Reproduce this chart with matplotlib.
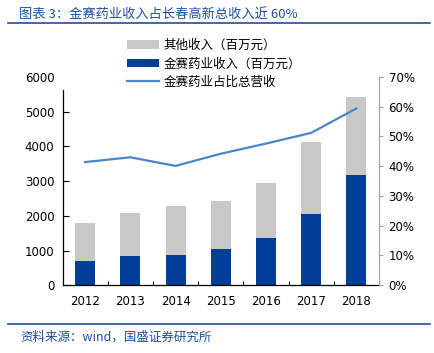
import numpy as np
import matplotlib
matplotlib.use('Agg')
import matplotlib.pyplot as plt
from matplotlib.patches import Patch
from matplotlib.lines import Line2D

# 数据
anos = ['2012', '2013', '2014', '2015', '2016', '2017', '2018']
receita_total = [1780, 2070, 2270, 2415, 2935, 4125, 5410]
receita_jinsai = [690, 835, 870, 1035, 1360, 2050, 3165]
proporcao = [0.414, 0.430, 0.401, 0.442, 0.476, 0.512, 0.594]

outros = [t - j for t, j in zip(receita_total, receita_jinsai)]

cjk = ['Noto Sans CJK SC', 'DejaVu Sans']
azul_titulo = '#1f4e9c'
azul_barra = '#003f98'
cinza = '#c8c8c8'
azul_linha = '#4a86c8'

fig = plt.figure(figsize=(4.35, 3.53), dpi=100)
ax = fig.add_axes([0.144, 0.192, 0.727, 0.590])
ax2 = ax.twinx()

x = np.arange(len(anos))
largura = 0.44
ax.bar(x, receita_jinsai, width=largura, color=azul_barra, zorder=2)
ax.bar(x, outros, width=largura, bottom=receita_jinsai, color=cinza, zorder=2)
ax2.plot(x, proporcao, color=azul_linha, linewidth=1.6)

ax.set_xlim(-0.5, len(anos) - 0.5)
ax.set_ylim(0, 6000)
ax2.set_ylim(0, 0.7)

ax.set_yticks(np.arange(0, 6001, 1000))
ax.set_yticklabels([str(v) for v in range(0, 6001, 1000)], fontsize=8.5)
ax.tick_params(axis='y', direction='in', length=4, width=0.8, pad=6)
ax.yaxis.get_major_ticks()[-1].tick1line.set_visible(False)

ax2.set_yticks(np.arange(0, 0.71, 0.1))
ax2.set_yticklabels([f'{v}%' for v in range(0, 71, 10)], fontsize=8.5)
ax2.tick_params(axis='y', direction='out', length=3, width=0.8, color='#a0a0a0', pad=4)

# ticks do eixo x entre as categorias
ax.set_xticks(x)
ax.set_xticklabels(anos, fontsize=8.5)
ax.tick_params(axis='x', length=0, pad=7)
ax.set_xticks(x[:-1] + 0.5, minor=True)
ax.tick_params(axis='x', which='minor', direction='in', length=3, width=0.8)

ax.spines['top'].set_visible(False)
ax2.spines['top'].set_visible(False)
ax.spines['right'].set_visible(False)
ax2.spines['left'].set_visible(False)
ax2.spines['bottom'].set_visible(False)
ax.spines['left'].set_bounds(0, 5620)
ax.spines['left'].set_linewidth(0.9)
ax.spines['bottom'].set_linewidth(0.9)
ax2.spines['right'].set_color('#a0a0a0')
ax2.spines['right'].set_linewidth(0.8)

handles = [Patch(facecolor=cinza, edgecolor='none'),
           Patch(facecolor=azul_barra, edgecolor='none'),
           Line2D([0], [0], color=azul_linha, linewidth=1.6)]
rotulos = ['其他收入（百万元）', '金赛药业收入（百万元）', '金赛药业占比总营收']
fig.legend(handles, rotulos, loc='upper left', bbox_to_anchor=(0.293, 0.889),
           frameon=False, prop={'family': cjk, 'size': 9}, handlelength=2.56,
           handletextpad=0.3, labelspacing=0.42, borderpad=0, borderaxespad=0)

# título e fonte
fig.text(0.043, 0.978, '图表 3：金赛药业收入占长春高新总收入近 60%', family=cjk,
         fontsize=9.5, color=azul_titulo, style='italic', va='top', ha='left')
fig.add_artist(Line2D([0.018, 0.989], [0.936, 0.936], color=azul_titulo, linewidth=1.2))
fig.add_artist(Line2D([0.018, 0.989], [0.081, 0.081], color=azul_titulo, linewidth=1.2))
fig.text(0.046, 0.062, '资料来源：wind，国盛证券研究所', family=cjk,
         fontsize=9, color=azul_titulo, style='italic', va='top', ha='left')

fig.savefig('out.png', dpi=100)
